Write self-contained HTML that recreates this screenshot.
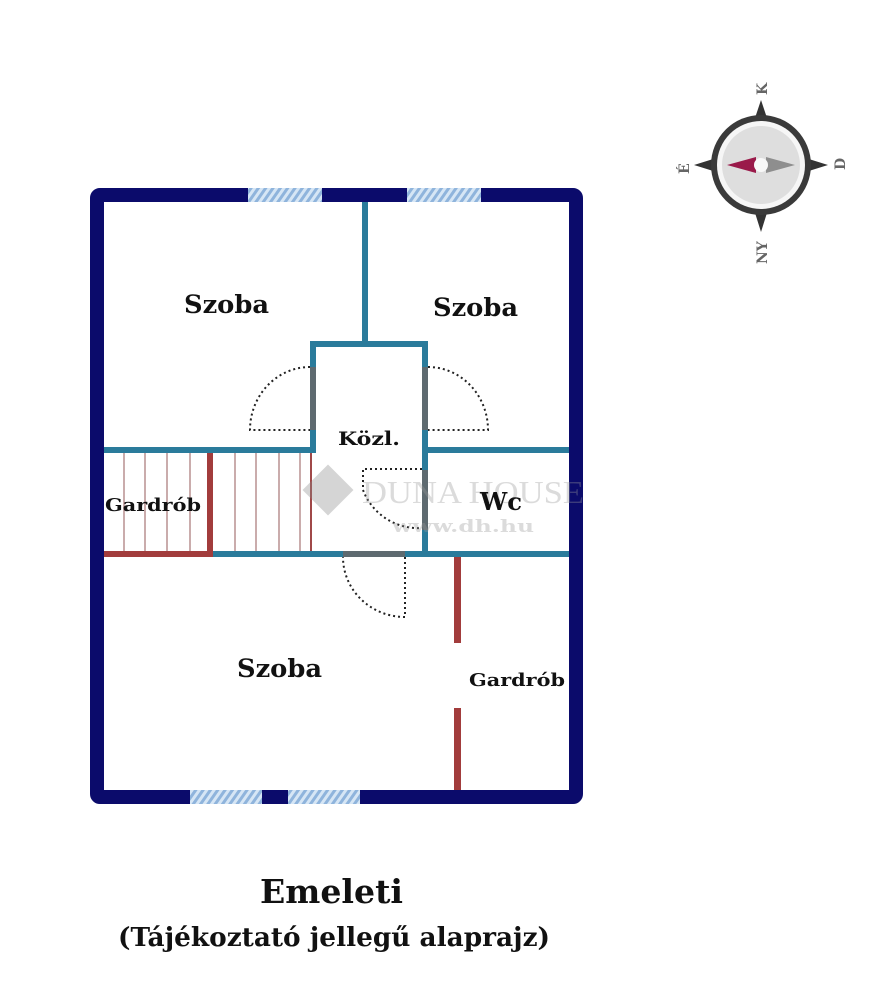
<!DOCTYPE html>
<html><head><meta charset="utf-8"><style>
html,body{margin:0;padding:0;background:#fff;width:896px;height:1000px;overflow:hidden}
text{font-family:"DejaVu Serif","Liberation Serif",serif;font-weight:bold;fill:#111}
</style></head><body>
<svg width="896" height="1000" viewBox="0 0 896 1000" xmlns="http://www.w3.org/2000/svg">
<defs>
<pattern id="h" width="6" height="6" patternUnits="userSpaceOnUse" patternTransform="rotate(35)">
<rect width="6" height="6" fill="#d6e6f5"/><rect width="3" height="6" fill="#8fb4dc"/>
</pattern>
</defs>
<rect x="97" y="195" width="479" height="602" fill="none" stroke="#0b0b6b" stroke-width="14" rx="3"/>
<rect x="248" y="188" width="74" height="14" fill="url(#h)"/>
<rect x="407" y="188" width="74" height="14" fill="url(#h)"/>
<rect x="190" y="790" width="72" height="14" fill="url(#h)"/>
<rect x="288" y="790" width="72" height="14" fill="url(#h)"/>
<g stroke="#b89090" stroke-width="1.5">
<line x1="124" y1="453" x2="124" y2="551"/><line x1="145" y1="453" x2="145" y2="551"/>
<line x1="167" y1="453" x2="167" y2="551"/><line x1="190" y1="453" x2="190" y2="551"/>
<line x1="235" y1="453" x2="235" y2="551"/><line x1="256" y1="453" x2="256" y2="551"/>
<line x1="279" y1="453" x2="279" y2="551"/><line x1="300" y1="453" x2="300" y2="551"/>
</g>
<line x1="311" y1="453" x2="311" y2="551" stroke="#a04848" stroke-width="2"/>
<g fill="#2a7b9b">
<rect x="362" y="202" width="6" height="143"/>
<rect x="310" y="341" width="118" height="6"/>
<rect x="310" y="341" width="6" height="112"/>
<rect x="422" y="341" width="6" height="216"/>
<rect x="104" y="447" width="212" height="6"/>
<rect x="428" y="447" width="141" height="6"/>
<rect x="213" y="551" width="356" height="6"/>
</g>
<g fill="#5e6a70">
<rect x="310" y="367" width="6" height="63"/>
<rect x="422" y="367" width="6" height="63"/>
<rect x="422" y="470" width="6" height="60"/>
<rect x="343" y="551" width="62" height="6"/>
</g>
<g fill="#a23c3c">
<rect x="207" y="453" width="6" height="104"/>
<rect x="104" y="551" width="109" height="6"/>
<rect x="454" y="557" width="7" height="86"/>
<rect x="454" y="708" width="7" height="82"/>
</g>
<g fill="none" stroke="#222" stroke-width="2" stroke-dasharray="2 3">
<path d="M310 367 A60 63 0 0 0 250 430 L310 430"/>
<path d="M428 367 A60 63 0 0 1 488 430 L428 430"/>
<path d="M422 469 L363 469 L363 490 A59 59 0 0 0 422 528"/>
<path d="M405 557 L405 617 A62 60 0 0 1 343 557"/>
</g>
<g opacity="0.35">
<rect x="310" y="472" width="36" height="36" transform="rotate(45 328 490)" fill="#888"/>
<text x="362" y="503" font-size="32" textLength="222" lengthAdjust="spacingAndGlyphs" style="fill:#999;font-weight:normal;font-family:'Liberation Serif',serif">DUNA HOUSE</text>
<text x="392" y="532" font-size="17" textLength="142" lengthAdjust="spacingAndGlyphs" style="fill:#999">www.dh.hu</text>
</g>
<text x="184" y="313" font-size="25" textLength="85" lengthAdjust="spacingAndGlyphs">Szoba</text>
<text x="433" y="316" font-size="25" textLength="85" lengthAdjust="spacingAndGlyphs">Szoba</text>
<text x="237" y="677" font-size="25" textLength="85" lengthAdjust="spacingAndGlyphs">Szoba</text>
<text x="338" y="445" font-size="19" textLength="62" lengthAdjust="spacingAndGlyphs">Közl.</text>
<text x="105" y="511" font-size="18" textLength="96" lengthAdjust="spacingAndGlyphs">Gardrób</text>
<text x="480" y="510" font-size="24" textLength="42" lengthAdjust="spacingAndGlyphs">Wc</text>
<text x="469" y="686" font-size="18" textLength="96" lengthAdjust="spacingAndGlyphs">Gardrób</text>
<text x="260" y="903" font-size="33" textLength="143" lengthAdjust="spacingAndGlyphs">Emeleti</text>
<text x="118" y="946" font-size="26" textLength="432" lengthAdjust="spacingAndGlyphs">(Tájékoztató jellegű alaprajz)</text>
<g>
<polygon points="761,100 771,130 751,130" fill="#333"/>
<polygon points="761,232 771,200 751,200" fill="#333"/>
<polygon points="694,165 726,155 726,175" fill="#333"/>
<polygon points="828,165 796,155 796,175" fill="#333"/>
<circle cx="761" cy="165" r="50" fill="#3a3a3a"/>
<circle cx="761" cy="165" r="44" fill="#f6f6f6"/>
<circle cx="761" cy="165" r="39" fill="#dedede"/>
<polygon points="727,165 756,157 756,173" fill="#9a1a4a"/>
<polygon points="795,165 766,157 766,173" fill="#8e8e8e"/>
<circle cx="761" cy="165" r="7" fill="#f8f8f8"/>
<text x="0" y="0" font-size="14" transform="translate(767,95) rotate(-90)" style="fill:#666">K</text>
<text x="0" y="0" font-size="14" transform="translate(845,170) rotate(-90)" style="fill:#666">D</text>
<text x="0" y="0" font-size="14" transform="translate(689,174) rotate(-90)" style="fill:#666">É</text>
<text x="0" y="0" font-size="14" transform="translate(767,264) rotate(-90)" style="fill:#666">NY</text>
</g>
</svg>
</body></html>
